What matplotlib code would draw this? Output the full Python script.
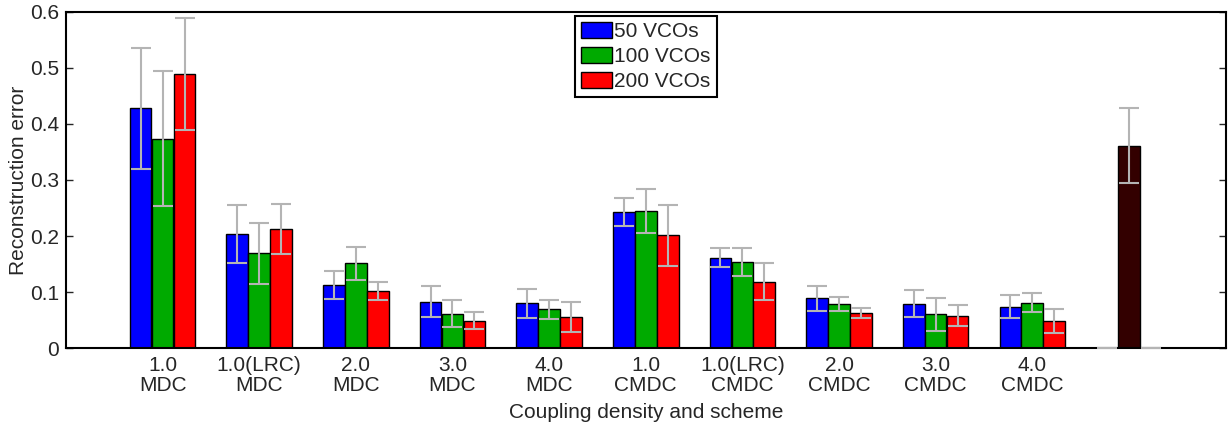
import numpy as np
import matplotlib.pyplot as plt

plt.rcParams['font.family'] = ['Liberation Sans', 'DejaVu Sans']

# group labels along the x axis
groups = ['1.0\nMDC', '1.0(LRC)\nMDC', '2.0\nMDC', '3.0\nMDC', '4.0\nMDC',
          '1.0\nCMDC', '1.0(LRC)\nCMDC', '2.0\nCMDC', '3.0\nCMDC', '4.0\nCMDC']

# mean reconstruction error per coupling scheme
vco50 = [0.428, 0.204, 0.112, 0.083, 0.080, 0.242, 0.161, 0.089, 0.079, 0.074]
vco100 = [0.374, 0.169, 0.151, 0.061, 0.069, 0.245, 0.153, 0.079, 0.060, 0.081]
vco200 = [0.489, 0.213, 0.101, 0.049, 0.056, 0.201, 0.118, 0.062, 0.058, 0.048]

# standard deviations
err50 = [0.108, 0.052, 0.025, 0.027, 0.026, 0.025, 0.017, 0.022, 0.024, 0.020]
err100 = [0.120, 0.055, 0.030, 0.024, 0.017, 0.039, 0.025, 0.013, 0.030, 0.017]
err200 = [0.100, 0.045, 0.016, 0.015, 0.027, 0.055, 0.033, 0.009, 0.018, 0.022]

# reference (uncoupled) result, drawn as an extra group
ref_val = 0.361
ref_err = 0.067

fig = plt.figure(figsize=(12.28, 4.26), dpi=100)
ax = fig.add_axes([0.0537, 0.183, 0.9443, 0.789])

x = np.arange(1, len(groups) + 1)
w = 0.224
off = 0.227
ecol = '#b4b4b4'
ekw = dict(fmt='none', ecolor=ecol, elinewidth=1.5, capsize=7, capthick=1.5, zorder=3)
fs = 15
tcol = '#262626'

series = [(vco50, err50, '#0000ff', '50 VCOs'),
          (vco100, err100, '#00aa00', '100 VCOs'),
          (vco200, err200, '#ff0000', '200 VCOs')]
for i, (vals, errs, col, lab) in enumerate(series):
    pos = x + (i - 1) * off
    ax.bar(pos, vals, width=w, color=col, edgecolor='black', linewidth=1.0,
           label=lab, zorder=2)
    ax.errorbar(pos, vals, yerr=errs, **ekw)

# extra group: single dark bar in the middle slot, empty outer slots
xr = len(groups) + 1
ax.bar(xr, ref_val, width=w, color='#330000', edgecolor='black', linewidth=1.0, zorder=2)
ax.errorbar(xr, ref_val, yerr=ref_err, **ekw)
ax.errorbar([xr - off, xr + off], [0, 0], yerr=[0, 0], **ekw)

ax.set_xlim(0, 12)
ax.set_ylim(0, 0.6)
ax.set_yticks([0, 0.1, 0.2, 0.3, 0.4, 0.5, 0.6])
ax.set_yticklabels(['0', '0.1', '0.2', '0.3', '0.4', '0.5', '0.6'])
ax.set_xticks(x)
ax.set_xticklabels(groups, linespacing=1.05)

ax.tick_params(axis='y', direction='in', length=5, width=1, right=True,
               labelsize=fs, colors=tcol, pad=5)
ax.tick_params(axis='x', length=0, labelsize=fs, colors=tcol, pad=6)
for s in ax.spines.values():
    s.set_linewidth(1.5)
    s.set_color('black')

ax.set_ylabel('Reconstruction error', fontsize=fs, color=tcol, labelpad=1)
ax.set_xlabel('Coupling density and scheme', fontsize=fs, color=tcol, labelpad=6)

leg = ax.legend(loc='upper center', bbox_to_anchor=(0.5, 0.988), fontsize=fs,
                fancybox=False, edgecolor='black', framealpha=1,
                handlelength=1.5, handleheight=0.8, handletextpad=0.1,
                labelspacing=0.27, borderpad=0.3, borderaxespad=0)
leg.get_frame().set_linewidth(1.5)
for t in leg.get_texts():
    t.set_color(tcol)

fig.savefig('out.png', dpi=100)
